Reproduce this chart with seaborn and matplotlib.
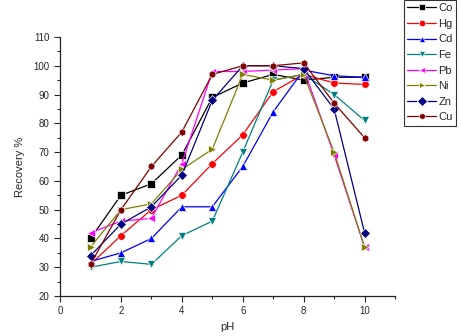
import matplotlib
matplotlib.use("Agg")
import matplotlib.pyplot as plt
from matplotlib.ticker import MultipleLocator
import seaborn as sns
import pandas as pd

ph = [1, 2, 3, 4, 5, 6, 7, 8, 9, 10]

co = [40, 55, 59, 69, 89, 94, 97, 95, 96, 96]
hg = [31, 41, 50, 55, 66, 76, 91, 97, 94, 93.5]
cd = [32, 35, 40, 51, 51, 65, 84, 98.5, 96.5, 96]
fe = [30, 32, 31, 41, 46, 70, 95, 97, 90, 81]
pb = [42, 46, 47, 66, 98, 98, 98.5, 99, 69, 37]
ni = [37, 50, 52, 64, 71, 97, 95, 97, 70, 37]
zn = [34, 45, 51, 62, 88, 100, 100, 99, 85, 42]
cu = [31, 50, 65, 77, 97, 100, 100, 101, 87, 75]

metals = ["Co", "Hg", "Cd", "Fe", "Pb", "Ni", "Zn", "Cu"]
series = [co, hg, cd, fe, pb, ni, zn, cu]

colors = {"Co": "#000000", "Hg": "#ff0000", "Cd": "#0000ff", "Fe": "#008080",
          "Pb": "#ff00ff", "Ni": "#808000", "Zn": "#000080", "Cu": "#800000"}
marks = {"Co": "s", "Hg": "o", "Cd": "^", "Fe": "v",
         "Pb": "<", "Ni": ">", "Zn": "D", "Cu": "h"}

rows = []
for m, vals in zip(metals, series):
    for x, v in zip(ph, vals):
        rows.append({"pH": x, "Recovery": v, "Metal": m})
df = pd.DataFrame(rows)

sns.set_style("ticks")
plt.rcParams["font.family"] = ["Liberation Sans", "DejaVu Sans"]

fig = plt.figure(figsize=(4.62, 3.36), dpi=100)
ax = fig.add_axes([0.130, 0.119, 0.725, 0.771])

sns.lineplot(data=df, x="pH", y="Recovery", hue="Metal", style="Metal",
             hue_order=metals, style_order=metals, palette=colors,
             markers=marks, dashes=False, markersize=5.5, linewidth=0.9,
             markeredgewidth=0.5, ax=ax)

ax.set_xlim(0, 11)
ax.set_ylim(20, 110)
ax.xaxis.set_major_locator(MultipleLocator(2))
ax.xaxis.set_minor_locator(MultipleLocator(1))
ax.yaxis.set_major_locator(MultipleLocator(10))
ax.yaxis.set_minor_locator(MultipleLocator(5))
ax.tick_params(which="major", length=4, width=0.8, labelsize=7, direction="out")
ax.tick_params(which="minor", length=2.5, width=0.8, direction="out")
sns.despine(ax=ax)
for s in ("left", "bottom"):
    ax.spines[s].set_linewidth(0.9)
    ax.spines[s].set_color("#222222")

ax.set_xlabel("pH", fontsize=8, labelpad=4)
ax.set_ylabel("Recovery %", fontsize=8, labelpad=6)

leg = ax.legend(loc="upper right", bbox_to_anchor=(456 / 462, 1.0),
                bbox_transform=fig.transFigure, borderaxespad=0,
                fontsize=8, handlelength=2.6, labelspacing=0.5,
                handletextpad=0.2, borderpad=0.3, fancybox=False,
                frameon=True, markerscale=0.85)
leg.get_frame().set_edgecolor("black")
leg.get_frame().set_linewidth(0.8)

fig.savefig("out.png", dpi=100)
